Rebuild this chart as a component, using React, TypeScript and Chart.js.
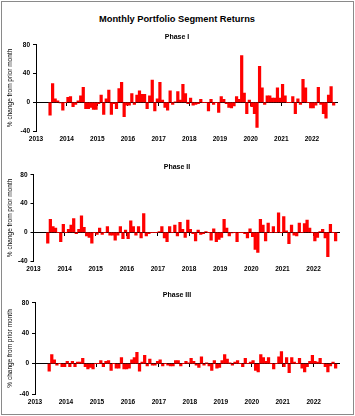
import React, { useEffect, useRef } from 'react';
import { Chart, registerables } from 'chart.js';

Chart.register(...registerables);

// Year tick labels (one per January, month index 0 = Jan 2013)
const yearLabels = ['2013', '2014', '2015', '2016', '2017', '2018', '2019', '2020', '2021', '2022'];
// Value-axis ticks
const yTickValues = [-40, 0, 40, 80];
// First month with data (month index from Jan 2013): June 2013
const firstMonth = 5;
// Last month shown on the axis (month index)
const axisEndMonth = 118;

// Monthly returns, June 2013 .. Sept 2022
const phase1 = [
  -18, 26, 5, 2, -1, -11, 0, 7, 8, -6,
  -3, 2, 9, 21, -9, -9, -7, -10, -10, -2,
  10, -17, 5, 17, -17, -2, -9, 19, 28, -20,
  -4, -4, 12, -3, 10, 16, 11, 11, -9, 9,
  31, -12, 5, 28, 3, -7, -11, 16, -3, 0.5,
  15, 3, 25, 12, -2, 6, -4, -3, -2, 4,
  0, 0, -12, 4, -3, 0, -14, 8, 4, -2,
  -7, -8, -5, 8, 4, 65, 13, -16, 3, -6,
  -16, -35, 50, 20, -3, 9, 9, 6, 6, 20,
  6, 25, 9, 0, 0, 8, -16, 5, -3, 32,
  20, 0, -8, -8, -4, 21, -3, -16, -22, 10,
  22, -4,
];

const phase2 = [
  -15, 18, 8, 6, 0, -13, 11, 0, 4, 10,
  19, -2, 4, 23, 7, -5, -7, -15, 0, -3,
  6, -3, 0, 8, -4, -4, -11, -4, 8, -9,
  3, -9, 16, 8, -4, 8, -8, 26, -5, -2,
  0, 0, 0, 1, 8, -8, -13, 8, 0, 10,
  -5, 14, 4, -7, 17, 4, -2, -12, 3, -3,
  -2, 1, 0, -11, 5, -13, -10, -7, 18, 6,
  -5, -1, 0, -13, 0, 0, -2, -8, 5, -6,
  -24, -28, 18, 10, -12, 13, 0, 8, 0, 27,
  0, 22, 2, -16, 10, -4, -5, 13, 0, 12,
  17, 6, 0, -12, -7, 1, 4, -8, -34, 11,
  0, -12,
];

const phase3 = [
  -10, 12, 5, -2, 0, -4, -4, 3, -4, 3,
  -4, 2, 2, 7, -4, -7, -5, -7, 0, 0,
  4, -4, 3, 4, -9, 0, -6, -6, 8, -7,
  -7, -6, 5, 8, 15, -10, 2, 11, -3, 6,
  -2, -2, 3, 5, -3, 0, -2, -3, -3, 4,
  4, -3, 0, 3, 1, 7, 3, -2, -5, 9,
  -2, 1, -3, -9, 4, -6, -5, 4, 12, 6,
  1, -2, 2, 4, 0, -4, 7, 0, 2, 4,
  -9, -11, 12, 8, 3, 8, 0, -7, 0, 9,
  16, -4, 8, -12, 8, 2, 0, 7, -6, -11,
  -4, 3, 11, 3, 2, 7, 0, -4, -11, -3,
  2, -6,
];

const FONT = "'Liberation Sans', Arial, Helvetica, sans-serif";
const W = 355;

type Geom = {
  top: number;
  height: number;
  padTop: number;
  left: number;
  right: number;
  bottomH: number;
  yTitle: string;
};

function ChartPanel({ values, geom }: { values: number[]; geom: Geom }) {
  const ref = useRef<HTMLCanvasElement | null>(null);
  useEffect(() => {
    if (!ref.current) return;
    const data = values.map((v, i) => ({ x: firstMonth + i + 0.5, y: v }));
    const chart = new Chart(ref.current, {
      type: 'bar',
      data: {
        datasets: [
          {
            data,
            backgroundColor: '#ff0000',
            borderWidth: 0,
            barPercentage: 1,
            categoryPercentage: 1,
            xAxisID: 'x',
            yAxisID: 'y',
          } as any,
        ],
      },
      options: {
        animation: false,
        responsive: false,
        maintainAspectRatio: false,
        devicePixelRatio: 1,
        events: [],
        layout: { padding: { top: geom.padTop, right: W - geom.right, left: 0, bottom: 0 } },
        plugins: { legend: { display: false }, tooltip: { enabled: false }, title: { display: false } },
        scales: {
          x: {
            type: 'linear',
            axis: 'x',
            position: { y: 0 },
            min: 0,
            max: axisEndMonth,
            offset: false,
            z: 2,
            grid: { display: true, drawOnChartArea: false, drawTicks: true, tickLength: 3, color: '#000', lineWidth: 1, offset: false },
            border: { display: true, color: '#000', width: 1 },
            ticks: { stepSize: 12, includeBounds: false, display: false },
          },
          x2: {
            type: 'linear',
            axis: 'x',
            position: 'bottom',
            min: 0,
            max: axisEndMonth,
            offset: false,
            grid: { display: false, drawTicks: false },
            border: { display: false },
            ticks: {
              stepSize: 12,
              includeBounds: false,
              autoSkip: false,
              maxRotation: 0,
              padding: 4,
              color: '#000',
              font: { family: FONT, size: 6.5, weight: 'bold' },
              callback: (v: any) => {
                const idx = Math.round(Number(v) / 12);
                return Number(v) % 12 === 0 && yearLabels[idx] ? yearLabels[idx] : '';
              },
            },
            afterFit: (s: any) => {
              s.height = geom.bottomH;
            },
          },
          y: {
            type: 'linear',
            position: 'left',
            min: yTickValues[0],
            max: yTickValues[yTickValues.length - 1],
            grid: { display: true, drawOnChartArea: false, drawTicks: true, tickLength: 3, color: '#000' },
            border: { display: true, color: '#000', width: 1 },
            ticks: {
              stepSize: 40,
              padding: 3,
              color: '#000',
              font: { family: FONT, size: 6.5, weight: 'bold' },
            },
            title: {
              display: true,
              text: geom.yTitle,
              color: '#000',
              font: { family: FONT, size: 6.5 },
              padding: { top: 6, bottom: 0 },
            },
            afterFit: (s: any) => {
              s.width = geom.left;
            },
          },
        },
      } as any,
    });
    return () => chart.destroy();
  }, [values, geom]);
  return (
    <canvas
      ref={ref}
      width={W}
      height={geom.height}
      style={{ position: 'absolute', left: 0, top: geom.top, width: W, height: geom.height }}
    />
  );
}

const panels: { title: string; titleY: number; values: number[]; geom: Geom }[] = [
  {
    title: 'Phase I',
    titleY: 36.5,
    values: phase1,
    geom: { top: 38, height: 107, padTop: 6, left: 36, right: 337.5, bottomH: 14, yTitle: '% change from prior month' },
  },
  {
    title: 'Phase II',
    titleY: 166.5,
    values: phase2,
    geom: { top: 168, height: 107, padTop: 6, left: 33.5, right: 339.5, bottomH: 14, yTitle: '% change from prior month' },
  },
  {
    title: 'Phase III',
    titleY: 295,
    values: phase3,
    geom: { top: 296, height: 112, padTop: 6, left: 35, right: 339.5, bottomH: 14, yTitle: '% change from prior month' },
  },
];

export default function App() {
  return (
    <div style={{ position: 'fixed', left: 0, top: 0, width: W, height: 416, background: '#fff', overflow: 'hidden' }}>
      <div
        style={{
          position: 'absolute',
          left: 1,
          top: 1,
          width: 351,
          height: 412,
          border: '1px solid #8a8a8a',
        }}
      />
      <div
        style={{
          position: 'absolute',
          left: 0,
          width: 354,
          top: 13,
          height: 12,
          lineHeight: '12px',
          textAlign: 'center',
          fontFamily: FONT,
          fontWeight: 'bold',
          fontSize: 9.3,
          color: '#000',
        }}
      >
        Monthly Portfolio Segment Returns
      </div>
      {panels.map((p) => (
        <React.Fragment key={p.title}>
          <ChartPanel values={p.values} geom={p.geom} />
          <div
            style={{
              position: 'absolute',
              left: 0,
              width: 354,
              top: p.titleY - 5,
              height: 10,
              lineHeight: '10px',
              textAlign: 'center',
              fontFamily: FONT,
              fontWeight: 'bold',
              fontSize: 7,
              color: '#000',
              zIndex: 2,
            }}
          >
            {p.title}
          </div>
        </React.Fragment>
      ))}
    </div>
  );
}
